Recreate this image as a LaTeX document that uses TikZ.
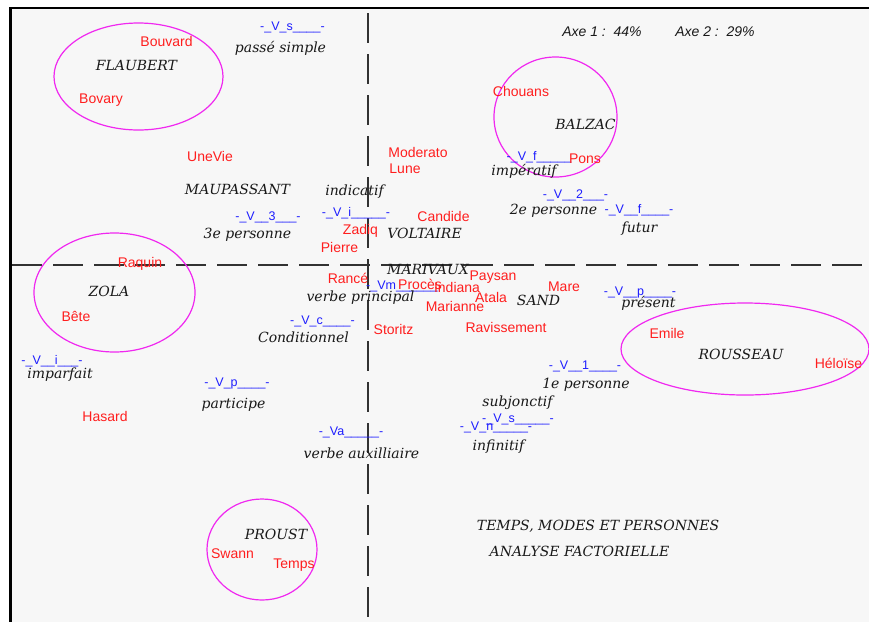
\documentclass[tikz,border=0pt]{standalone}
\usepackage{fontspec}
\setmainfont{DejaVu Serif}
\newfontfamily\sansf{Liberation Sans}
\definecolor{paper}{RGB}{247,247,247}
\definecolor{ink}{RGB}{25,25,25}
\definecolor{titlered}{RGB}{255,30,30}
\definecolor{codeblue}{RGB}{30,30,255}
\definecolor{ringpink}{RGB}{240,40,240}
\definecolor{axisgray}{RGB}{50,50,50}
\tikzset{
  wordlbl/.style={inner sep=0pt, text=ink, font=\fontsize{14}{16}\selectfont\itshape},
  booklbl/.style={inner sep=0pt, text=titlered, font=\sansf\fontsize{14}{16}\selectfont},
  codelbl/.style={inner sep=0pt, text=codeblue, font=\sansf\fontsize{12.5}{14}\selectfont},
  axelbl/.style={inner sep=0pt, text=ink, font=\sansf\fontsize{14}{16}\selectfont\itshape},
  ring/.style={draw=ringpink, line width=1.2pt},
  axisline/.style={draw=axisgray, line width=1.5pt, dash pattern=on 30pt off 11pt},
  frameline/.style={draw=black, line width=2.5pt}
}
\begin{document}
\begin{tikzpicture}[x=1pt,y=-1pt]
\useasboundingbox (0,0) rectangle (869,622);
\fill[white] (0,0) rectangle (869,622);
\fill[paper] (10,8) rectangle (869,622);
% frame (top and left edges)
\coordinate (tl) at (10.5,8);
\coordinate (tr) at (869,8);
\coordinate (bl) at (10.5,622);
\draw[frameline] (tr) -- (tl) -- (bl);

% factorial axes
\coordinate (vtop) at (368,13);
\coordinate (vbot) at (368,622);
\coordinate (hleft) at (12,265);
\coordinate (hright) at (869,265);
\draw[axisline] (vtop) -- (vbot);
\draw[axisline] (hleft) -- (hright);

% author groups
\draw[ring] (138.5,76.5) ellipse [x radius=84.5, y radius=53.5];
\draw[ring] (555.5,117) ellipse [x radius=61.5, y radius=60];
\draw[ring] (114.5,292.5) ellipse [x radius=80.5, y radius=59.5];
\draw[ring] (745,349) ellipse [x radius=124, y radius=46];
\draw[ring] (262,549.5) ellipse [x radius=55, y radius=50.5];

% inertia of the axes
\node[axelbl] (axe1) at (602,32) {Axe 1 :\ \ 44\%};
\node[axelbl] (axe2) at (715,32) {Axe 2 :\ \ 29\%};

% verbal codes
\node[codelbl] (vs) at (292.5,27) {-\_V\_s\_\_\_\_-};
\node[codelbl] (v3) at (268,217) {-\_V\_\_3\_\_\_-};
\node[codelbl] (vi) at (356,213) {-\_V\_i\_\_\_\_\_-};
\node[codelbl] (vf) at (539,157) {-\_V\_f\_\_\_\_\_};
\node[codelbl] (v2) at (575.5,195) {-\_V\_\_2\_\_\_-};
\node[codelbl] (vff) at (639,210) {-\_V\_\_f\_\_\_\_-};
\node[codelbl] (vm) at (402,286) {-\_Vm\_\_\_\_\_\_};
\node[codelbl] (vc) at (322.5,321) {-\_V\_c\_\_\_\_-};
\node[codelbl] (vii) at (52,361) {-\_V\_\_i\_\_\_-};
\node[codelbl] (vp) at (237,383) {-\_V\_p\_\_\_\_-};
\node[codelbl] (vpp) at (640,292) {-\_V\_\_p\_\_\_\_-};
\node[codelbl] (v1) at (585,366) {-\_V\_\_1\_\_\_\_-};
\node[codelbl] (va) at (351,432) {-\_Va\_\_\_\_\_-};
\node[codelbl] (vn) at (496,427) {-\_V\_n\_\_\_\_\_-};
\node[codelbl] (vss) at (518,419) {-\_V\_s\_\_\_\_\_-};

% grammatical categories and authors
\node[wordlbl] (flaubert) at (136.5,65) {FLAUBERT};
\node[wordlbl] (passe) at (280.5,48) {passé simple};
\node[wordlbl] (maupassant) at (237.5,189) {MAUPASSANT};
\node[wordlbl] (indicatif) at (354.5,192) {indicatif};
\node[wordlbl] (pers3) at (247.5,235) {3e personne};
\node[wordlbl] (voltaire) at (424.5,233) {VOLTAIRE};
\node[wordlbl] (marivaux) at (428,269) {MARIVAUX};
\node[wordlbl] (vprincipal) at (360.5,298) {verbe principal};
\node[wordlbl] (zola) at (109,291) {ZOLA};
\node[wordlbl] (conditionnel) at (303.5,337) {Conditionnel};
\node[wordlbl] (imparfait) at (60,375) {imparfait};
\node[wordlbl] (participe) at (233.5,405) {participe};
\node[wordlbl] (vauxil) at (361.5,453) {verbe auxilliaire};
\node[wordlbl] (balzac) at (585.5,124) {BALZAC};
\node[wordlbl] (imperatif) at (524,171) {impératif};
\node[wordlbl] (pers2) at (553.5,211) {2e personne};
\node[wordlbl] (futur) at (639.5,229) {futur};
\node[wordlbl] (sand) at (538.5,300) {SAND};
\node[wordlbl] (present) at (648.5,303) {présent};
\node[wordlbl] (rousseau) at (741,354) {ROUSSEAU};
\node[wordlbl] (pers1) at (586,385) {1e personne};
\node[wordlbl] (subjonctif) at (517.5,403) {subjonctif};
\node[wordlbl] (infinitif) at (498.5,447) {infinitif};
\node[wordlbl] (proust) at (276,534) {PROUST};
\node[wordlbl] (title1) at (598,526) {TEMPS, MODES ET PERSONNES};
\node[wordlbl] (title2) at (579.5,551) {ANALYSE FACTORIELLE};

% works
\node[booklbl] (bouvard) at (166.5,41) {Bouvard};
\node[booklbl] (bovary) at (101,100) {Bovary};
\node[booklbl] (unevie) at (210,156) {UneVie};
\node[booklbl] (moderato) at (418,152) {Moderato};
\node[booklbl] (lune) at (405,169) {Lune};
\node[booklbl] (chouans) at (521,91) {Chouans};
\node[booklbl] (pons) at (585,159) {Pons};
\node[booklbl] (candide) at (443.5,216) {Candide};
\node[booklbl] (zadiq) at (360.5,231) {Zadiq};
\node[booklbl] (pierre) at (339.5,247) {Pierre};
\node[booklbl] (raquin) at (140,264) {Raquin};
\node[booklbl] (bete) at (76,316) {Bête};
\node[booklbl] (rance) at (348,278) {Rancé};
\node[booklbl] (proces) at (420,284) {Procès};
\node[booklbl] (indiana) at (457,287) {Indiana};
\node[booklbl] (paysan) at (493,277) {Paysan};
\node[booklbl] (mare) at (564,287) {Mare};
\node[booklbl] (atala) at (491,297) {Atala};
\node[booklbl] (marianne) at (455,306) {Marianne};
\node[booklbl] (ravissement) at (506,327) {Ravissement};
\node[booklbl] (storitz) at (393.5,329) {Storitz};
\node[booklbl] (emile) at (667,333) {Emile};
\node[booklbl] (heloise) at (838.5,363) {Héloïse};
\node[booklbl] (hasard) at (105,416) {Hasard};
\node[booklbl] (swann) at (232.5,554) {Swann};
\node[booklbl] (temps) at (294,565) {Temps};
\end{tikzpicture}
\end{document}
